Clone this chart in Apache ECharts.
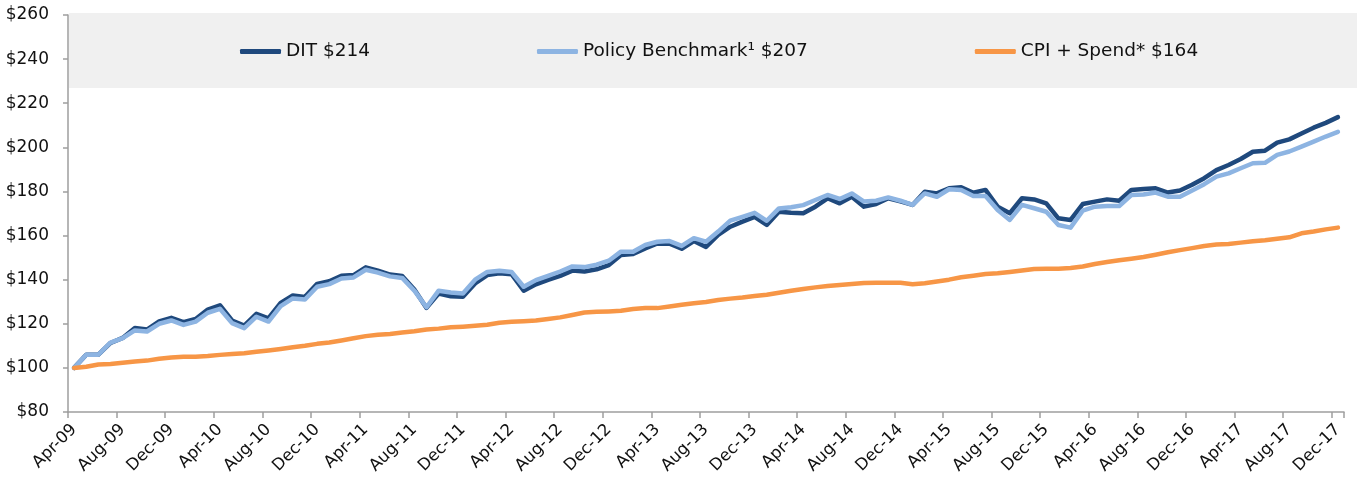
<!DOCTYPE html>
<html>
<head>
<meta charset="utf-8">
<script src="https://cdn.jsdelivr.net/npm/echarts@6/dist/echarts.min.js"></script>
<style>
html,body{margin:0;padding:0;background:#fff;}
#chart{width:1357px;height:485px;}
</style>
</head>
<body>
<div id="chart"></div>
<script>
const months = [
 'Apr-09','May-09','Jun-09','Jul-09','Aug-09','Sep-09','Oct-09','Nov-09','Dec-09',
 'Jan-10','Feb-10','Mar-10','Apr-10','May-10','Jun-10','Jul-10','Aug-10','Sep-10','Oct-10','Nov-10','Dec-10',
 'Jan-11','Feb-11','Mar-11','Apr-11','May-11','Jun-11','Jul-11','Aug-11','Sep-11','Oct-11','Nov-11','Dec-11',
 'Jan-12','Feb-12','Mar-12','Apr-12','May-12','Jun-12','Jul-12','Aug-12','Sep-12','Oct-12','Nov-12','Dec-12',
 'Jan-13','Feb-13','Mar-13','Apr-13','May-13','Jun-13','Jul-13','Aug-13','Sep-13','Oct-13','Nov-13','Dec-13',
 'Jan-14','Feb-14','Mar-14','Apr-14','May-14','Jun-14','Jul-14','Aug-14','Sep-14','Oct-14','Nov-14','Dec-14',
 'Jan-15','Feb-15','Mar-15','Apr-15','May-15','Jun-15','Jul-15','Aug-15','Sep-15','Oct-15','Nov-15','Dec-15',
 'Jan-16','Feb-16','Mar-16','Apr-16','May-16','Jun-16','Jul-16','Aug-16','Sep-16','Oct-16','Nov-16','Dec-16',
 'Jan-17','Feb-17','Mar-17','Apr-17','May-17','Jun-17','Jul-17','Aug-17','Sep-17','Oct-17','Nov-17','Dec-17'
];

const seriesNames = ['DIT $214', 'Policy Benchmark\u00B9 $207', 'CPI + Spend* $164'];

const dit = [
 100,106,106,111.3,113.6,118.1,117.4,121.1,122.7,
 120.7,122.2,126.4,128.4,121.5,119.2,124.5,122.5,129.5,132.8,132.2,138.1,
 139.3,141.8,142.1,145.6,144.1,142.3,141.7,135.5,127.2,133.7,132.5,132.3,
 138.3,142.1,142.9,142.5,135,137.9,139.9,141.7,144.1,143.7,144.7,146.6,
 151.2,151.6,154.2,156.4,156.3,154.0,157.5,154.8,160.3,164,166.3,168.5,
 164.8,170.8,170.3,170.1,173.1,176.9,174.6,177.6,173.1,174.3,176.9,175.5,
 173.9,179.9,179.1,181.4,181.9,179.4,180.7,173.1,170.1,176.9,176.4,174.6,
 167.8,167.1,174.3,175.4,176.4,175.8,180.7,181.1,181.4,179.5,180.4,183,
 186,189.7,192,194.7,198,198.5,202.1,203.6,206.3,208.9,211.1,213.7
];

const policy = [
 100,106,106,111.5,113.5,117,116.5,120,121.5,
 119.5,121,125,126.8,120.3,118,123.2,121,128,131.5,131,136.8,
 138,140.5,141,144.5,143.2,141.5,140.8,135,127.5,135,134.2,133.7,
 140,143.5,144,143.5,136.8,139.8,141.7,143.7,146,145.7,146.8,148.6,
 152.7,152.7,155.7,157.2,157.5,155.3,158.8,157.2,161.8,166.8,168.5,170.3,
 166.7,172.3,172.8,173.8,176.1,178.4,176.6,179.1,175.4,175.8,177.3,175.8,
 173.9,179.1,177.6,181,180.7,177.9,177.9,171.6,167.1,173.9,172.4,170.8,
 164.8,163.6,171.3,173.1,173.4,173.4,178.4,178.6,179.5,177.6,177.6,180.4,
 183.3,186.7,188.2,190.5,192.8,193,196.6,198.1,200.3,202.6,204.9,207
];

const cpi = [
 100,100.5,101.5,101.8,102.3,102.9,103.3,104.1,104.7,
 105,105.1,105.4,105.9,106.3,106.6,107.3,107.9,108.6,109.4,110,110.9,
 111.5,112.4,113.4,114.4,115,115.4,116,116.6,117.4,117.8,118.4,118.7,
 119.1,119.6,120.5,120.9,121.2,121.5,122.2,122.9,124,125.1,125.4,125.6,
 125.9,126.7,127.1,127.1,127.8,128.6,129.3,129.9,130.8,131.4,131.9,132.6,
 133.2,134.1,135,135.8,136.5,137.1,137.6,138,138.5,138.6,138.6,138.6,
 137.9,138.4,139.2,140,141.1,141.8,142.6,142.9,143.5,144.2,144.8,145,
 145,145.3,146,147.1,148,148.8,149.5,150.3,151.3,152.4,153.4,154.3,
 155.3,155.9,156.2,156.8,157.4,157.9,158.6,159.2,161,161.8,162.8,163.6
];

const yTicks = {min: 80, max: 260, interval: 20};
const colors = ['#1F497D', '#8DB4E2', '#F79646'];

const chart = echarts.init(document.getElementById('chart'));
const font = 'DejaVu Sans';

function lineSeries(name, data, color) {
  return {
    name: name, type: 'line', data: data, symbol: 'none', smooth: false,
    color: color,
    lineStyle: {width: 4.5, color: color, cap: 'round', join: 'round'},
    emphasis: {disabled: true},
    animation: false
  };
}

chart.setOption({
  animation: false,
  textStyle: {fontFamily: font},
  graphic: [{
    type: 'rect', z: -10, silent: true,
    shape: {x: 69, y: 13, width: 1288, height: 75},
    style: {fill: '#F0F0F0'}
  }],
  grid: {left: 68, right: 13, top: 15, bottom: 73, containLabel: false, outerBoundsMode: 'none'},
  legend: {
    left: 235, top: 37, itemWidth: 41, itemHeight: 5, itemGap: 167,
    icon: 'roundRect',
    textStyle: {fontFamily: font, fontSize: 18.5, color: '#111'},
    data: seriesNames
  },
  xAxis: {
    type: 'category', data: months, boundaryGap: true,
    axisLine: {lineStyle: {color: '#9E9E9E', width: 1.5}},
    axisTick: {show: true, interval: function (i) { return i % 4 === 0; }, length: 6, lineStyle: {color: '#9E9E9E', width: 1.5}},
    axisLabel: {interval: 3, rotate: 45, fontFamily: font, fontSize: 16.5, color: '#111', margin: 15},
    splitLine: {show: false}
  },
  yAxis: {
    type: 'value', min: yTicks.min, max: yTicks.max, interval: yTicks.interval,
    axisLine: {show: true, lineStyle: {color: '#9E9E9E', width: 1.5}},
    axisTick: {show: true, length: 5, lineStyle: {color: '#9E9E9E', width: 1.5}},
    axisLabel: {formatter: '${value}', fontFamily: font, fontSize: 17, color: '#111', margin: 19},
    splitLine: {show: false}
  },
  series: [
    lineSeries(seriesNames[0], dit, colors[0]),
    lineSeries(seriesNames[1], policy, colors[1]),
    lineSeries(seriesNames[2], cpi, colors[2])
  ]
});
</script>
</body>
</html>
